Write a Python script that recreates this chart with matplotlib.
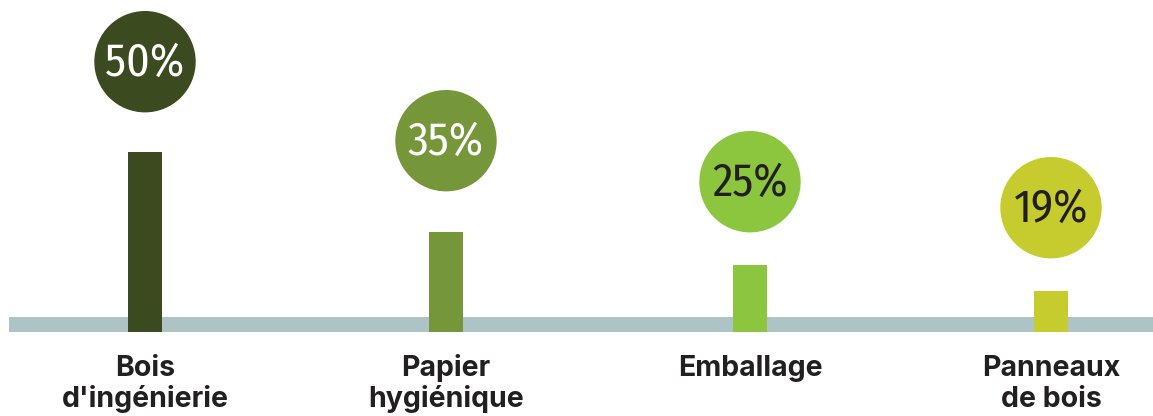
import matplotlib
matplotlib.use("Agg")
import matplotlib.pyplot as plt
from matplotlib.patches import Circle
from matplotlib import font_manager

# ---- data ----
categories = ["Bois\nd'ingénierie", "Papier\nhygiénique", "Emballage", "Panneaux\nde bois"]
pct_labels = ["50%", "35%", "25%", "19%"]
bar_heights = [180, 100, 67, 41]          # bar height above the baseline (chart units)
bubble_heights = [270, 191, 150, 124]     # bubble centre height above the baseline
x_positions = [145, 446, 750, 1051]

bar_colors = ["#3c4a1f", "#76963a", "#8cc63f", "#c6cc2e"]
pct_text_colors = ["white", "white", "#231f20", "#231f20"]
band_color = "#aec3c5"
label_color = "#231f20"

entries = [(f.name, f.weight if isinstance(f.weight, int) else 400, f.fname)
           for f in font_manager.fontManager.ttflist
           if f.style == "normal" and "italic" not in f.fname.lower()]


def pick(cands, weights):
    for c in cands:
        for w in weights:
            for n, fw, fn in entries:
                if n == c and fw == w:
                    return font_manager.FontProperties(fname=fn)
    return font_manager.FontProperties(family="DejaVu Sans")


narrow_fp = pick(["Fira Sans Condensed", "PT Sans Narrow", "Open Sans Condensed",
                  "Roboto Condensed", "Encode Sans Condensed", "Asap Condensed",
                  "Barlow Condensed", "Archivo Narrow"], [400, 300])
label_fp = pick(["Raleway", "Montserrat", "Inter", "Lato"], [700, 600])

W, H = 1153, 416
fig = plt.figure(figsize=(W / 100, H / 100), dpi=100)
ax = fig.add_axes([0, 0, 1, 1])
ax.set_xlim(0, W)
ax.set_ylim(H, 0)
ax.axis("off")

baseline = 331.7
band_h = 15

# baseline band
ax.bar(9, band_h, width=W - 9, bottom=baseline - band_h, align="edge",
       color=band_color, zorder=1)

# bars
ax.bar(x_positions, [-h for h in bar_heights], width=34, bottom=baseline,
       color=bar_colors, zorder=2)

# bubbles
for x, bh, c, t, tc in zip(x_positions, bubble_heights, bar_colors, pct_labels, pct_text_colors):
    cy = baseline - bh
    ax.add_patch(Circle((x, cy), 50, color=c, zorder=3))
    fp = narrow_fp.copy()
    fp.set_size(33)
    ax.text(x, cy + 2, t, ha="center", va="center", fontproperties=fp,
            color=tc, zorder=4)

# category labels
for x, lab in zip(x_positions, categories):
    for i, line in enumerate(lab.split("\n")):
        fp = label_fp.copy()
        fp.set_size(20.5)
        ax.text(x, 376 + 31 * i, line, ha="center", va="baseline",
                fontproperties=fp, color=label_color)

fig.savefig("out.png", dpi=100)
